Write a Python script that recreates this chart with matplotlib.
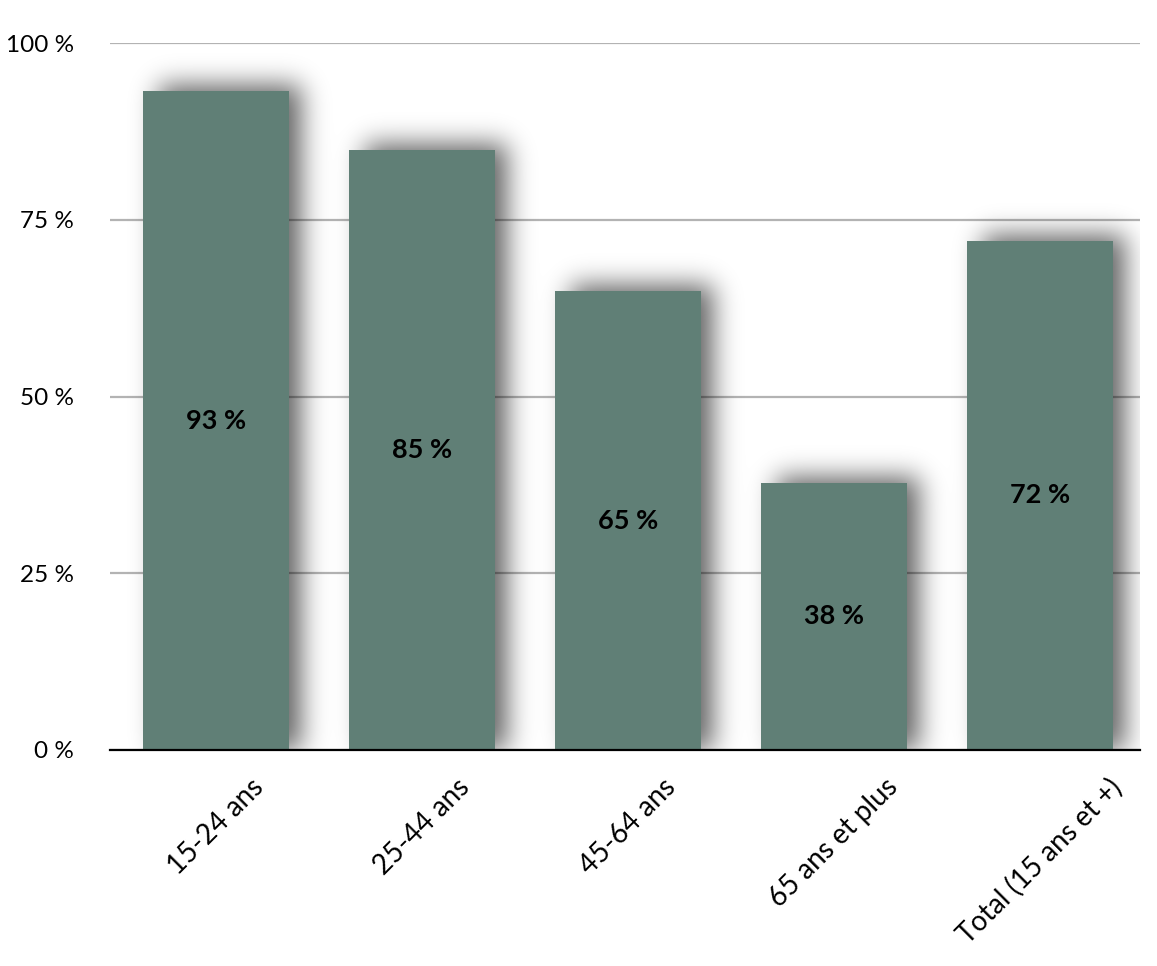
import matplotlib
matplotlib.use('Agg')
import matplotlib.pyplot as plt
import numpy as np

categories = ['15-24 ans', '25-44 ans', '45-64 ans', '65 ans et plus', 'Total (15 ans et +)']
values = [93.2, 84.9, 64.9, 37.8, 72.0]
labels = ['93 %', '85 %', '65 %', '38 %', '72 %']
yticks = [0, 25, 50, 75, 100]
ytick_labels = ['0 %', '25 %', '50 %', '75 %', '100 %']

bar_color = '#607f76'
bar_width = 0.71

plt.rcParams['font.family'] = ['Lato', 'DejaVu Sans']

W, H = 1030, 707  # axes size in pixels
fig = plt.figure(figsize=(11.57, 9.66), dpi=100)
ax = fig.add_axes([110 / 1157, 1 - 750 / 966, W / 1157, H / 966])
xlo, xhi = -0.515, len(categories) - 0.515
ax.set_xlim(xlo, xhi)
ax.set_ylim(0, 100)

# blurred drop shadow, built as an image over the axes area
ppx = W / (xhi - xlo)
ppy = H / 100.0
mask = np.zeros((H, W))
for i, v in enumerate(values):
    left = (i - bar_width / 2 - xlo) * ppx + 16
    right = (i + bar_width / 2 - xlo) * ppx + 12
    top = v * ppy + 6
    c0, c1 = int(round(left)), int(round(right))
    r = int(round(top))
    mask[H - r:, c0:c1] = 1.0

sigma = 13.0
kx = np.arange(-45, 46)
kern = np.exp(-kx ** 2 / (2 * sigma ** 2))
kern /= kern.sum()
pad = 50
big = np.pad(mask, ((pad, 0), (pad, pad)))
big = np.apply_along_axis(lambda r: np.convolve(r, kern, mode='same'), 1, big)
big = np.apply_along_axis(lambda c: np.convolve(c, kern, mode='same'), 0, big)
blur = big[pad:, pad:-pad]
shadow = np.zeros((H, W, 4))
shadow[..., 3] = 0.62 * blur
ax.imshow(shadow, extent=(xlo, xhi, 0, 100), aspect='auto', zorder=1,
          interpolation='bilinear')

ax.bar(range(len(categories)), values, width=bar_width, color=bar_color, zorder=3)

for i, v in enumerate(values):
    ax.text(i, v / 2, labels[i], ha='center', va='center', fontsize=19.5,
            fontweight='bold', color='black', zorder=4)

ax.set_yticks(yticks)
ax.set_yticklabels(ytick_labels, fontsize=17.5)
ax.tick_params(axis='y', length=0, pad=26)
ax.yaxis.grid(True, color='#b3b3b3', linewidth=1.6, zorder=0)
ax.set_axisbelow(True)

ax.set_xticks(range(len(categories)))
ax.set_xticklabels([])
ax.tick_params(axis='x', length=0)
for i, c in enumerate(categories):
    ax.annotate(c, xy=(i, 0), xycoords='data', xytext=(0, -17), textcoords='offset points',
                ha='center', va='top', rotation=45, fontsize=20, annotation_clip=False)

for s in ['top', 'right', 'left']:
    ax.spines[s].set_visible(False)
ax.spines['bottom'].set_color('black')
ax.spines['bottom'].set_linewidth(1.6)
ax.spines['bottom'].set_zorder(5)

fig.savefig('out.png', dpi=100)
